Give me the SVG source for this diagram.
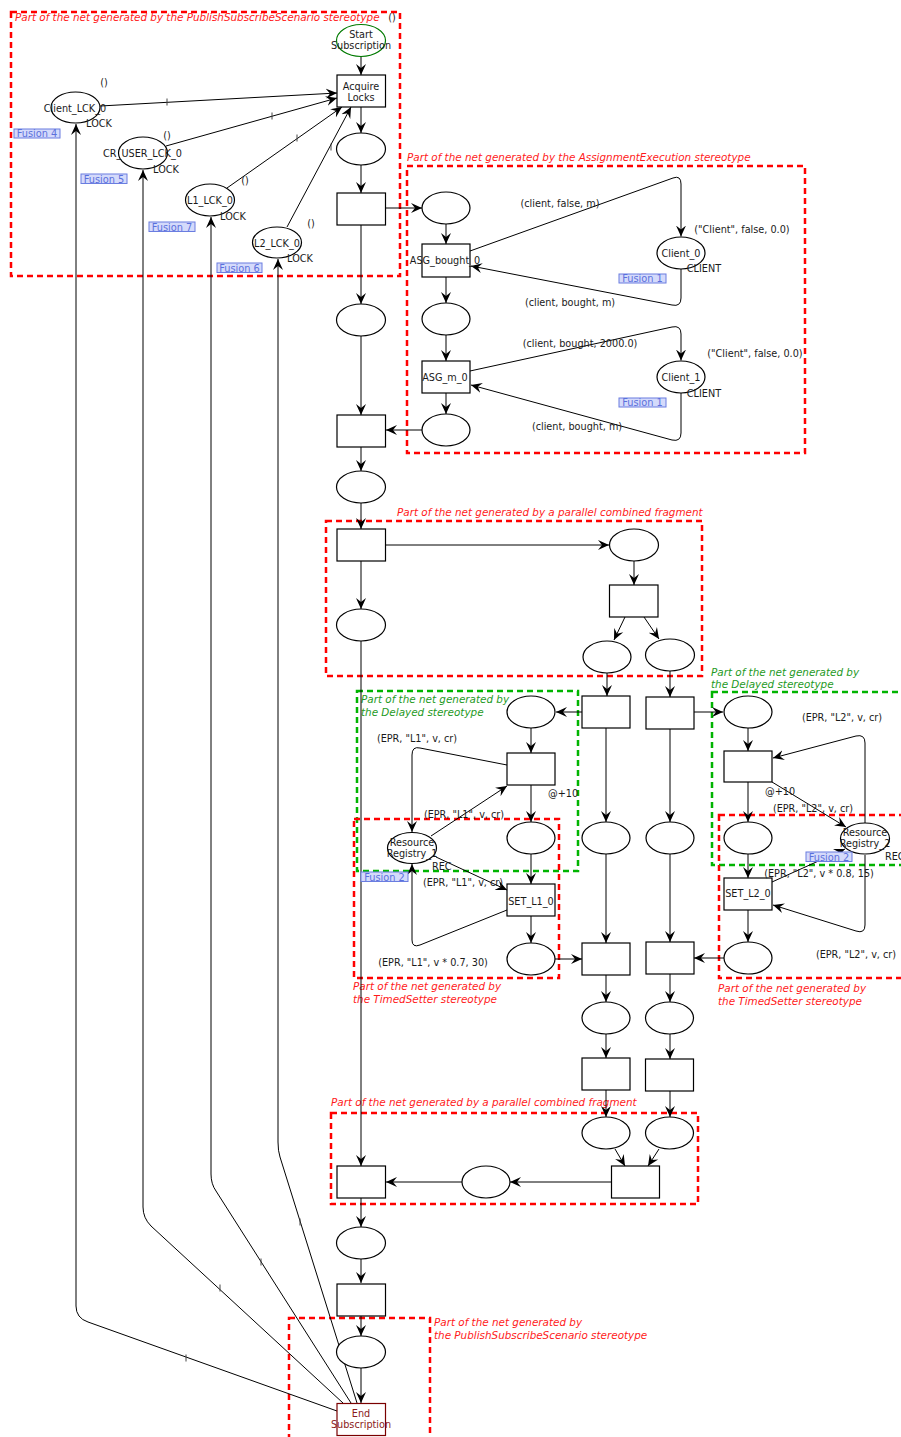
<svg xmlns="http://www.w3.org/2000/svg" width="901" height="1437" viewBox="0 0 901 1437">
<style>
.p{fill:#fff;stroke:#000;stroke-width:1.2}
.t{fill:#fff;stroke:#000;stroke-width:1.2}
.e{fill:none;stroke:#000;stroke-width:1}
.ea{fill:none;stroke:#000;stroke-width:1;marker-end:url(#a)}
.tk{stroke:#444;stroke-width:1}
text{font-family:"DejaVu Sans",Verdana,sans-serif;font-size:9.7px;fill:#1a1a1a}
.c{text-anchor:middle}
.rb{fill:none;stroke:#ff0000;stroke-width:2.5;stroke-dasharray:6,4}
.gb{fill:none;stroke:#00b400;stroke-width:2.5;stroke-dasharray:6,4}
.rl{font-style:italic;fill:#ff1a1a;font-size:10.4px}
.gl{font-style:italic;fill:#1e9a1e;font-size:10.4px}
.fb{fill:#d4dafb;stroke:#6a7de0;stroke-width:1}
.ft{fill:#5b70dc;font-size:9.8px;text-anchor:middle}
</style>
<defs>
<marker id="a" viewBox="-11 -6 12 12" refX="0" refY="0" markerWidth="12" markerHeight="12" markerUnits="userSpaceOnUse" orient="auto"><path d="M0,0 L-11,-5 L-7,0 L-11,5 Z" fill="#000"/></marker>
</defs>
<rect width="901" height="1437" fill="#fff"/>

<g id="regions">
<rect class="rb" x="11" y="12" width="389" height="264"/>
<text class="rl" x="15" y="21">Part of the net generated by the PublishSubscribeScenario stereotype</text>
<rect class="rb" x="407" y="166" width="398" height="287"/>
<text class="rl" x="407" y="161">Part of the net generated by the AssignmentExecution stereotype</text>
<rect class="rb" x="326" y="521" width="376" height="155"/>
<text class="rl" x="397" y="516">Part of the net generated by a parallel combined fragment</text>
<rect class="gb" x="357" y="691" width="221" height="180"/>
<text class="gl" x="361" y="703">Part of the net generated by</text>
<text class="gl" x="361" y="716">the Delayed stereotype</text>
<rect class="rb" x="354" y="819" width="205" height="159"/>
<text class="rl" x="353" y="990">Part of the net generated by</text>
<text class="rl" x="353" y="1003">the TimedSetter stereotype</text>
<rect class="gb" x="712" y="692" width="200" height="173"/>
<text class="gl" x="711" y="676">Part of the net generated by</text>
<text class="gl" x="711" y="688">the Delayed stereotype</text>
<rect class="rb" x="719" y="815" width="200" height="163"/>
<text class="rl" x="718" y="992">Part of the net generated by</text>
<text class="rl" x="718" y="1005">the TimedSetter stereotype</text>
<rect class="rb" x="331" y="1113" width="367" height="91"/>
<text class="rl" x="331" y="1106">Part of the net generated by a parallel combined fragment</text>
<rect class="rb" x="289" y="1318" width="141" height="125"/>
<text class="rl" x="434" y="1326">Part of the net generated by</text>
<text class="rl" x="434" y="1339">the PublishSubscribeScenario stereotype</text>
</g>

<g id="connectors">
<path class="ea" d="M361,56.5V75"/>
<path class="ea" d="M361,107V133"/>
<path class="ea" d="M361,165V193"/>
<path class="ea" d="M361,225V304"/>
<path class="ea" d="M361,336V415"/>
<path class="ea" d="M361,447V471"/>
<path class="ea" d="M361,503V529"/>
<path class="ea" d="M361,561V609"/>
<path class="ea" d="M361,641V1166"/>
<path class="ea" d="M361,1198V1227"/>
<path class="ea" d="M361,1259V1283"/>
<path class="ea" d="M361,1316V1336"/>
<path class="ea" d="M361,1368V1403"/>
<path class="ea" d="M100,106L337,93"/>
<path class="ea" d="M166,146L337,98"/>
<path class="ea" d="M227,188L342,107"/>
<path class="ea" d="M287,227L351,107"/>
<path class="tk" d="M167,98.5v7M272,112.5v7M297,134.5v7M331,143.5v7"/>
<path class="ea" d="M337,1411L88,1322Q76,1318 76,1306L76,124"/>
<path class="ea" d="M343,1403L151,1226Q143,1218 143,1207L143,170"/>
<path class="ea" d="M351,1403L216,1191Q211,1184 211,1174L211,217"/>
<path class="ea" d="M357,1403L280,1157Q278,1151 278,1142L278,259"/>
<path class="tk" d="M186,1354.5v7M220,1284.5v7M261,1258.5v7M300,1218.5v7"/>
<path class="ea" d="M385,208H422"/>
<path class="ea" d="M446,224V244"/>
<path class="ea" d="M446,277V303"/>
<path class="ea" d="M446,335V361"/>
<path class="ea" d="M446,393V414"/>
<path class="ea" d="M422,430H386"/>
<path class="ea" d="M470,251L673,178Q681,175 681,184L681,236.5"/>
<path class="ea" d="M681,269L681,298Q681,307 672,305L471,266"/>
<path class="ea" d="M470,371L672,327Q681,325 681,334L681,360.5"/>
<path class="ea" d="M681,393L681,433Q681,442 672,440L471,385"/>
<path class="ea" d="M385,545H609"/>
<path class="ea" d="M634,561V585"/>
<path class="ea" d="M625,617L614,640"/>
<path class="ea" d="M644,617L659,639"/>
<path class="ea" d="M607,673V696"/>
<path class="ea" d="M670,671V697"/>
<path class="ea" d="M582,712H556"/>
<path class="ea" d="M694,712H723"/>
<path class="ea" d="M606,728V822"/>
<path class="ea" d="M606,854V943"/>
<path class="ea" d="M606,975V1002"/>
<path class="ea" d="M606,1034V1058"/>
<path class="ea" d="M606,1090V1117"/>
<path class="ea" d="M670,729V822"/>
<path class="ea" d="M670,854V942"/>
<path class="ea" d="M670,974V1002"/>
<path class="ea" d="M670,1034V1059"/>
<path class="ea" d="M670,1091V1117"/>
<path class="ea" d="M531,728V753"/>
<path class="ea" d="M531,785V822"/>
<path class="ea" d="M531,854V884"/>
<path class="ea" d="M531,916V943"/>
<path class="ea" d="M555,959H582"/>
<path class="ea" d="M507,765L420,748Q412,746 412,755L412,832"/>
<path class="ea" d="M431,836L507,786"/>
<path class="ea" d="M436,857L507,890"/>
<path class="ea" d="M507,910L420,945Q412,948 412,940L412,864"/>
<path class="ea" d="M748,728V751"/>
<path class="ea" d="M748,782V822"/>
<path class="ea" d="M748,854V878"/>
<path class="ea" d="M748,910V942"/>
<path class="ea" d="M724,958H694"/>
<path class="ea" d="M865,823L865,743Q865,734 856,736L773,758"/>
<path class="ea" d="M772,782L846,827"/>
<path class="ea" d="M772,882L845,849"/>
<path class="ea" d="M865,855L865,925Q865,934 856,931L773,905"/>
<path class="ea" d="M615,1149L625,1166"/>
<path class="ea" d="M659,1149L648,1166"/>
<path class="ea" d="M612,1182H510"/>
<path class="ea" d="M462,1182H386"/>
</g>

<g id="start"><ellipse cx="361" cy="40.5" rx="24.5" ry="16" fill="#fff" stroke="#007a00" stroke-width="1.2"/>
<text class="c" x="361" y="38">Start</text><text class="c" x="361" y="49">Subscription</text>
<text class="c" x="392" y="21">()</text></g>
<g id="acquire"><rect class="t" x="337" y="75" width="48.5" height="32"/>
<text class="c" x="361" y="89.5">Acquire</text><text class="c" x="361" y="100.5">Locks</text></g>
<g id="p1"><ellipse class="p" cx="361" cy="149" rx="24.5" ry="16"/></g>
<g id="t1"><rect class="t" x="337" y="193" width="48.5" height="32"/></g>
<g id="p2"><ellipse class="p" cx="361" cy="320" rx="24.5" ry="16"/></g>
<g id="t2"><rect class="t" x="337" y="415" width="48.5" height="32"/></g>
<g id="p3"><ellipse class="p" cx="361" cy="487" rx="24.5" ry="16"/></g>
<g id="t3"><rect class="t" x="337" y="529" width="48.5" height="32"/></g>
<g id="p4"><ellipse class="p" cx="361" cy="625" rx="24.5" ry="16"/></g>
<g id="tjoin"><rect class="t" x="337" y="1166" width="48.5" height="32"/></g>
<g id="p5"><ellipse class="p" cx="361" cy="1243" rx="24.5" ry="16"/></g>
<g id="t5"><rect class="t" x="337" y="1284" width="48.5" height="32"/></g>
<g id="p6"><ellipse class="p" cx="361" cy="1352" rx="24.5" ry="16"/></g>
<g id="end"><rect x="337" y="1403.5" width="48.5" height="32" fill="#fff" stroke="#7a0000" stroke-width="1.2"/>
<text class="c" x="361" y="1416.5" style="fill:#8b1a1a">End</text><text class="c" x="361" y="1427.5" style="fill:#8b1a1a">Subscription</text></g>

<g id="client_lck"><ellipse class="p" cx="75.5" cy="107.5" rx="24.5" ry="15.5"/>
<text class="c" x="75" y="111.5">Client_LCK_0</text><text class="c" x="104" y="86">()</text><text class="c" x="99" y="127">LOCK</text>
<rect class="fb" x="14" y="129" width="46" height="9"/><text class="ft" x="37" y="137">Fusion 4</text></g>
<g id="cr_user_lck"><ellipse class="p" cx="143" cy="153" rx="24.5" ry="16"/>
<text class="c" x="142.5" y="156.5">CR_USER_LCK_0</text><text class="c" x="167" y="139">()</text><text class="c" x="166" y="173">LOCK</text>
<rect class="fb" x="81" y="174" width="46" height="9.5"/><text class="ft" x="104" y="182.5">Fusion 5</text></g>
<g id="l1_lck"><ellipse class="p" cx="210" cy="200" rx="24.5" ry="16"/>
<text class="c" x="210" y="203.5">L1_LCK_0</text><text class="c" x="245" y="184">()</text><text class="c" x="233" y="220">LOCK</text>
<rect class="fb" x="149" y="222" width="46" height="9.5"/><text class="ft" x="172" y="230.5">Fusion 7</text></g>
<g id="l2_lck"><ellipse class="p" cx="277" cy="242.5" rx="24.5" ry="15.5"/>
<text class="c" x="277" y="246.5">L2_LCK_0</text><text class="c" x="311" y="227">()</text><text class="c" x="300" y="262">LOCK</text>
<rect class="fb" x="217" y="263" width="45" height="9.5"/><text class="ft" x="239.5" y="271.5">Fusion 6</text></g>

<g id="a0"><ellipse class="p" cx="446" cy="208" rx="24" ry="16"/></g>
<g id="asg_bought"><rect class="t" x="422" y="244" width="48" height="33"/><text class="c" x="445" y="263.5">ASG_bought_0</text></g>
<g id="a1"><ellipse class="p" cx="446" cy="319" rx="24" ry="16"/></g>
<g id="asg_m"><rect class="t" x="422" y="361" width="48" height="32"/><text class="c" x="445" y="380.5">ASG_m_0</text></g>
<g id="a2"><ellipse class="p" cx="446" cy="430" rx="24" ry="16"/></g>
<g id="client0"><ellipse class="p" cx="681" cy="253" rx="24" ry="16"/><text class="c" x="681" y="256.5">Client_0</text>
<text class="c" x="704" y="272">CLIENT</text><text class="c" x="742" y="232.5">("Client", false, 0.0)</text>
<rect class="fb" x="619" y="274" width="47" height="9"/><text class="ft" x="642.5" y="282">Fusion 1</text></g>
<g id="client1"><ellipse class="p" cx="681" cy="377" rx="24" ry="16"/><text class="c" x="681" y="380.5">Client_1</text>
<text class="c" x="704" y="396.5">CLIENT</text><text class="c" x="755" y="356.5">("Client", false, 0.0)</text>
<rect class="fb" x="619" y="398" width="47" height="9"/><text class="ft" x="642.5" y="406">Fusion 1</text></g>
<g id="arc_labels_asg">
<text class="c" x="560" y="206.5">(client, false, m)</text>
<text class="c" x="570" y="305.5">(client, bought, m)</text>
<text class="c" x="580" y="346.5">(client, bought, 2000.0)</text>
<text class="c" x="577" y="429.5">(client, bought, m)</text>
</g>

<g id="f1"><ellipse class="p" cx="634" cy="545" rx="24.5" ry="16"/></g>
<g id="ft"><rect class="t" x="609.5" y="585" width="48.5" height="32"/></g>
<g id="fl"><ellipse class="p" cx="607" cy="657" rx="24" ry="16"/></g>
<g id="fr"><ellipse class="p" cx="670" cy="655" rx="24.5" ry="16"/></g>
<g id="tl"><rect class="t" x="582" y="696" width="48" height="32"/></g>
<g id="tr"><rect class="t" x="646" y="697" width="48" height="32"/></g>
<g id="cl1"><ellipse class="p" cx="606" cy="838" rx="24" ry="16"/></g>
<g id="cr1"><ellipse class="p" cx="670" cy="838" rx="24" ry="16"/></g>
<g id="cl2"><rect class="t" x="582" y="943" width="48" height="32"/></g>
<g id="cr2"><rect class="t" x="646" y="942" width="48" height="32"/></g>
<g id="cl3"><ellipse class="p" cx="606" cy="1018" rx="24" ry="16"/></g>
<g id="cr3"><ellipse class="p" cx="669.5" cy="1018" rx="24" ry="16"/></g>
<g id="cl4"><rect class="t" x="582" y="1058" width="48" height="32"/></g>
<g id="cr4"><rect class="t" x="645.5" y="1059" width="48" height="32"/></g>
<g id="cl5"><ellipse class="p" cx="606" cy="1133" rx="24" ry="16"/></g>
<g id="cr5"><ellipse class="p" cx="669.5" cy="1133" rx="24" ry="16"/></g>
<g id="j"><rect class="t" x="611.5" y="1166" width="48" height="32"/></g>
<g id="pj"><ellipse class="p" cx="486" cy="1182" rx="24" ry="16"/></g>

<g id="d1"><ellipse class="p" cx="531" cy="712" rx="24" ry="16"/></g>
<g id="d1t"><rect class="t" x="507" y="753" width="48" height="32"/><text x="548" y="796.5">@+10</text></g>
<g id="d1p"><ellipse class="p" cx="531" cy="838" rx="24" ry="16"/></g>
<g id="set_l1"><rect class="t" x="507" y="884" width="48" height="32"/><text class="c" x="531" y="904.5">SET_L1_0</text></g>
<g id="s1p"><ellipse class="p" cx="531" cy="959" rx="24" ry="16"/></g>
<g id="reg1"><ellipse class="p" cx="412" cy="848" rx="24.5" ry="15.5"/>
<text class="c" x="412" y="845.5">Resource</text><text class="c" x="412" y="856.5">Registry_1</text>
<text x="432" y="869.5">REC</text>
<rect class="fb" x="361" y="872" width="47" height="9.5"/><text class="ft" x="384.5" y="880.5">Fusion 2</text></g>
<g id="arc_labels_l1">
<text class="c" x="417" y="741.5">(EPR, "L1", v, cr)</text>
<text class="c" x="464" y="817.5">(EPR, "L1", v, cr)</text>
<text class="c" x="463" y="885.5">(EPR, "L1", v, cr)</text>
<text class="c" x="433" y="965.5">(EPR, "L1", v * 0.7, 30)</text>
</g>

<g id="d2"><ellipse class="p" cx="748" cy="712" rx="24" ry="16"/></g>
<g id="d2t"><rect class="t" x="724" y="751" width="48" height="31"/><text x="765" y="794.5">@+10</text></g>
<g id="d2p"><ellipse class="p" cx="748" cy="838" rx="24" ry="16"/></g>
<g id="set_l2"><rect class="t" x="724" y="878" width="48" height="32"/><text class="c" x="748" y="896.5">SET_L2_0</text></g>
<g id="s2p"><ellipse class="p" cx="748" cy="958" rx="24" ry="16"/></g>
<g id="reg2"><ellipse class="p" cx="865" cy="838.5" rx="24.5" ry="15.5"/>
<text class="c" x="865" y="835.5">Resource</text><text class="c" x="865" y="846.5">Registry_2</text>
<text x="885" y="859.5">REC</text>
<rect class="fb" x="806" y="852" width="46" height="9.5"/><text class="ft" x="829" y="860.5">Fusion 2</text></g>
<g id="arc_labels_l2">
<text class="c" x="842" y="720.5">(EPR, "L2", v, cr)</text>
<text class="c" x="813" y="811.5">(EPR, "L2", v, cr)</text>
<text class="c" x="819" y="876.5">(EPR, "L2", v * 0.8, 15)</text>
<text class="c" x="856" y="957.5">(EPR, "L2", v, cr)</text>
</g>
</svg>
